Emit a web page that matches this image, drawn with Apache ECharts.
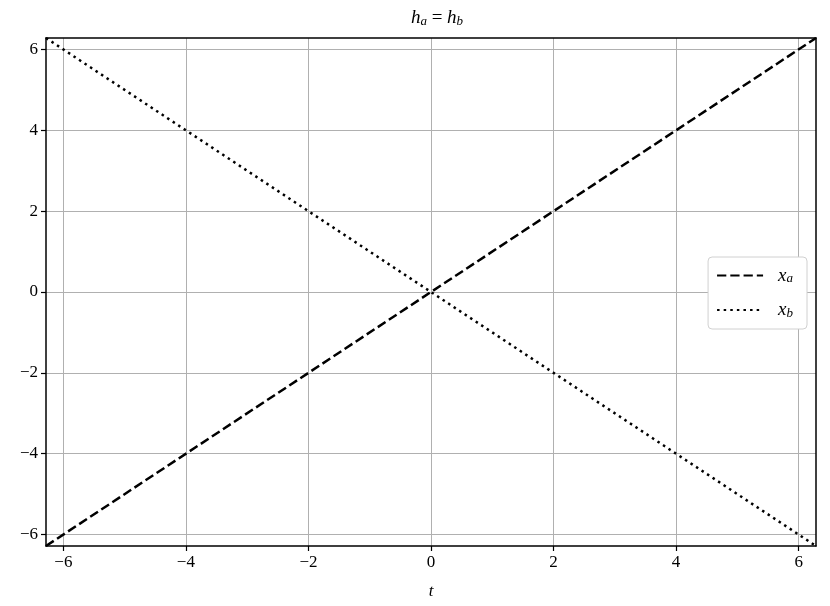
<!DOCTYPE html>
<html>
<head>
<meta charset="utf-8">
<script src="https://cdn.jsdelivr.net/npm/echarts@6/dist/echarts.min.js"></script>
<style>
	html, body { margin: 0; padding: 0; background: #fff; }
	#chart { width: 830px; height: 606px; }
</style>
</head>
<body>
<div id="chart"></div>
<script>
// t 轴范围 -2π..2π
var tValues = [-6.2832, 6.2832];
var xaValues = [-6.2832, 6.2832];
var xbValues = [6.2832, -6.2832];
var tickValues = [-6, -4, -2, 0, 2, 4, 6];

var serif = '"Liberation Serif", "DejaVu Serif", serif';

function minus(v) {
	return String(v).replace('-', '\u2212');
}

var myChart = echarts.init(document.getElementById('chart'));

var richText = {
	i: { fontFamily: serif, fontStyle: 'italic', fontWeight: 'normal', fontSize: 19, color: '#000' },
	s: { fontFamily: serif, fontStyle: 'italic', fontWeight: 'normal', fontSize: 13, color: '#000', verticalAlign: 'bottom', padding: [7, 0, 0, 0] },
	n: { fontFamily: serif, fontWeight: 'normal', fontSize: 19, color: '#000' }
};

var option = {
	animation: false,
	title: {
		text: '{i|h}{s|a}{n| = }{i|h}{s|b}',
		left: 432,
		top: 3,
		textAlign: 'center',
		textStyle: { fontWeight: 'normal', rich: richText }
	},
	legend: {
		right: 23,
		top: 257,
		orient: 'vertical',
		itemWidth: 46,
		itemHeight: 14,
		itemGap: 15,
		padding: [9, 14, 9, 8],
		backgroundColor: '#fff',
		borderColor: '#d0d0d0',
		borderWidth: 1,
		borderRadius: 4,
		itemStyle: { opacity: 0 },
		formatter: function (name) {
			return name === 'xa' ? '   {i|x}{s|a}' : '   {i|x}{s|b}';
		},
		textStyle: { rich: richText }
	},
	grid: {
		left: 46,
		right: 14,
		top: 38,
		bottom: 60,
		show: false
	},
	xAxis: [{
		type: 'value',
		min: tValues[0],
		max: tValues[1],
		minInterval: 2,
		maxInterval: 2,
		name: 't',
		nameLocation: 'middle',
		nameGap: 37,
		nameTextStyle: { fontFamily: serif, fontStyle: 'italic', fontSize: 17, color: '#000' },
		axisLine: { show: true, onZero: false, lineStyle: { color: '#000', width: 1.5 } },
		axisTick: { show: true, customValues: tickValues, length: 5, lineStyle: { color: '#000', width: 1.2 } },
		axisLabel: {
			customValues: tickValues,
			fontFamily: serif, fontSize: 17, color: '#000', margin: 8,
			formatter: minus
		},
		splitLine: { show: true, lineStyle: { color: '#b0b0b0', width: 1 } }
	}, {
		type: 'value',
		position: 'top',
		min: tValues[0],
		max: tValues[1],
		axisLine: { show: true, onZero: false, lineStyle: { color: '#000', width: 1.5 } },
		axisTick: { show: false },
		axisLabel: { show: false },
		splitLine: { show: false }
	}],
	yAxis: [{
		type: 'value',
		min: tValues[0],
		max: tValues[1],
		minInterval: 2,
		maxInterval: 2,
		axisLine: { show: true, onZero: false, lineStyle: { color: '#000', width: 1.5 } },
		axisTick: { show: true, customValues: tickValues, length: 5, lineStyle: { color: '#000', width: 1.2 } },
		axisLabel: {
			customValues: tickValues,
			fontFamily: serif, fontSize: 17, color: '#000', margin: 8,
			formatter: minus
		},
		splitLine: { show: true, lineStyle: { color: '#b0b0b0', width: 1 } }
	}, {
		type: 'value',
		position: 'right',
		min: tValues[0],
		max: tValues[1],
		axisLine: { show: true, onZero: false, lineStyle: { color: '#000', width: 1.5 } },
		axisTick: { show: false },
		axisLabel: { show: false },
		splitLine: { show: false }
	}],
	series: [{
		name: 'xa',
		type: 'line',
		symbol: 'none',
		data: tValues.map(function (t, i) { return [t, xaValues[i]]; }),
		lineStyle: { color: '#000', width: 2.5, type: [9.25, 4] },
		itemStyle: { color: '#000' }
	}, {
		name: 'xb',
		type: 'line',
		symbol: 'none',
		data: tValues.map(function (t, i) { return [t, xbValues[i]]; }),
		lineStyle: { color: '#000', width: 2.5, type: [2.5, 4.1] },
		itemStyle: { color: '#000' }
	}]
};

myChart.setOption(option);
</script>
</body>
</html>
